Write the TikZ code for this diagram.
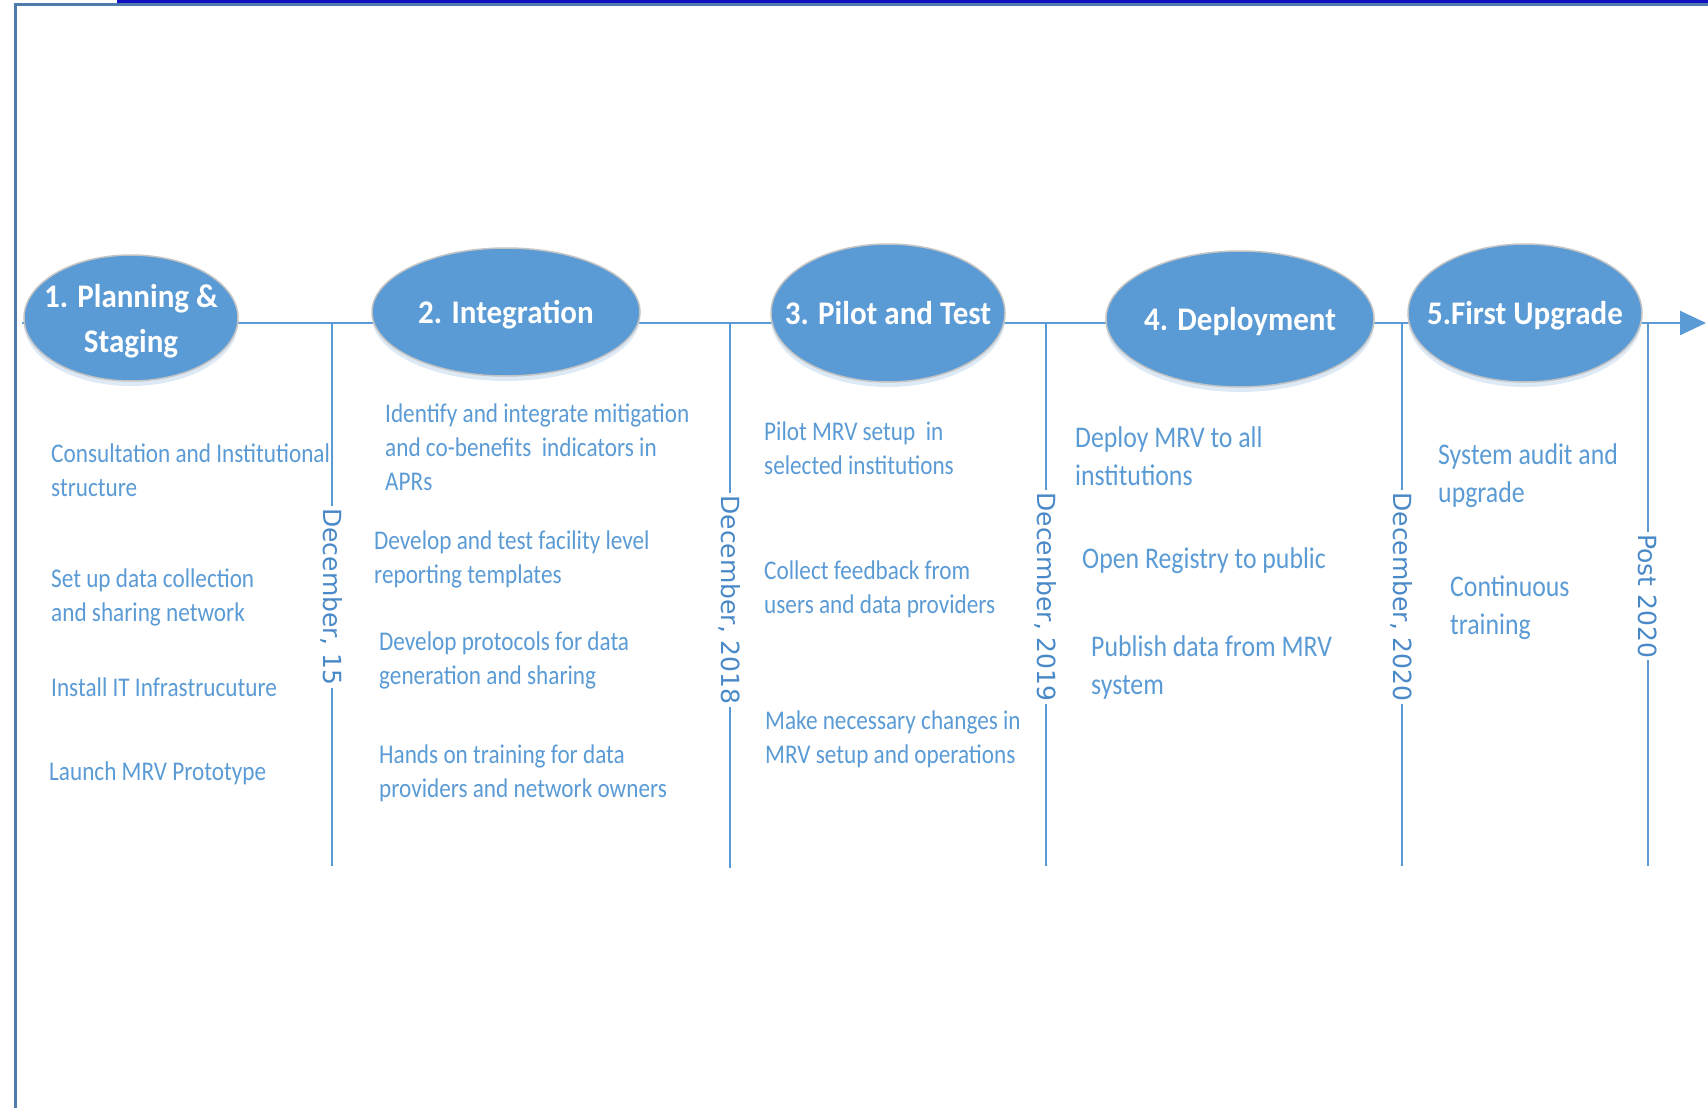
\documentclass[tikz,border=0pt]{standalone}
\usepackage{fontspec}
\usepackage{xcolor}
\usepackage{tikz}
\usetikzlibrary{arrows.meta,shapes.geometric,shadows}
\newfontfamily\taskfont[FakeStretch=0.86]{Carlito}
\newfontfamily\phasefont[FakeStretch=0.94]{Carlito}
\newfontfamily\datefont{DejaVu Sans}
\definecolor{mrvblue}{HTML}{5B9BD5}
\definecolor{datecol}{HTML}{4A89C8}
\definecolor{framegray}{HTML}{4F7CAC}
\definecolor{framedark}{HTML}{1010C0}
\definecolor{rimgray}{HTML}{C4C4C4}

\begin{document}
\begin{tikzpicture}[x=1pt,y=-1pt,
  phase/.style={ellipse,draw=rimgray,line width=1.5pt,fill=mrvblue,text=white,align=center,
    inner xsep=-30pt,inner ysep=0pt,text depth=0pt,font=\phasefont\bfseries\fontsize{33}{45}\selectfont,
    drop shadow={shadow xshift=0pt,shadow yshift=-5pt,fill=mrvblue!35,opacity=.6}},
  task/.style={anchor=west,align=left,inner sep=0pt,text=mrvblue,font=\taskfont\fontsize{27}{34}\selectfont},
  bigtask/.style={task,font=\taskfont\fontsize{30}{38}\selectfont},
  date/.style={rotate=-90,fill=white,inner sep=2pt,text=datecol,font=\datefont\fontsize{25}{25}\selectfont},
  tl/.style={draw=mrvblue,line width=2.5pt}]
\useasboundingbox (0,0) rectangle (1708,1108);

% frame
\draw[framegray,line width=3pt] (15,1108) -- (15,5) -- (1708,5);
\draw[framedark,line width=3pt] (117,1.5) -- (1708,1.5);

% time line
\coordinate (start) at (22,323);
\coordinate (end) at (1706,323);
\draw[tl,-{Triangle[length=26pt,width=24pt]}] (start) -- (end);

% phases
\node (1) at (131,318) [phase,minimum width=214pt,minimum height=126pt] {1. Planning \&\\Staging};
\node (2) at (506,312) [phase,minimum width=268pt,minimum height=128pt] {2. Integration};
\node (3) at (888,313) [phase,minimum width=234pt,minimum height=138pt] {3. Pilot and Test};
\node (4) at (1240,319) [phase,minimum width=268pt,minimum height=136pt] {4. Deployment};
\node (5) at (1525,313) [phase,minimum width=234pt,minimum height=138pt] {5.First Upgrade};

% milestones
\coordinate (m1) at (332,323);
\coordinate (m2) at (730,323);
\coordinate (m3) at (1046,323);
\coordinate (m4) at (1402,323);
\coordinate (m5) at (1648,323);
\coordinate (b1) at (332,866);
\coordinate (b2) at (730,868);
\coordinate (b3) at (1046,866);
\coordinate (b4) at (1402,866);
\coordinate (b5) at (1648,866);
\node (d1) at (332,597) [date] {December, 15};
\node (d2) at (730,600) [date] {December, 2018};
\node (d3) at (1046,597) [date] {December, 2019};
\node (d4) at (1402,597) [date] {December, 2020};
\node (d5) at (1648,596) [date] {Post 2020};
\draw[tl] (m1) -- (d1) -- (b1);
\draw[tl] (m2) -- (d2) -- (b2);
\draw[tl] (m3) -- (d3) -- (b3);
\draw[tl] (m4) -- (d4) -- (b4);
\draw[tl] (m5) -- (d5) -- (b5);

% tasks
\node (t1a) at (51,470) [task] {Consultation and Institutional\\structure};
\node (t1b) at (51,597) [task] {Set up data collection\\and sharing network};
\node (t1c) at (51,687) [task] {Install IT Infrastrucuture};
\node (t1d) at (49,773) [task] {Launch MRV Prototype};

\node (t2a) at (385,447) [task] {Identify and integrate mitigation\\and co-benefits\ \ indicators in\\APRs};
\node (t2b) at (374,559) [task] {Develop and test facility level\\reporting templates};
\node (t2c) at (379,660) [task] {Develop protocols for data\\generation and sharing};
\node (t2d) at (379,773) [task] {Hands on training for data\\providers and network owners};

\node (t3a) at (764,448) [task] {Pilot MRV setup\ \ in\\selected institutions};
\node (t3b) at (764,589) [task] {Collect feedback from\\users and data providers};
\node (t3c) at (765,739) [task] {Make necessary changes in\\MRV setup and operations};

\node (t4a) at (1075,456) [bigtask] {Deploy MRV to all\\institutions};
\node (t4b) at (1082,561) [bigtask] {Open Registry to public};
\node (t4c) at (1091,667) [bigtask] {Publish data from MRV\\system};

\node (t5a) at (1438,476) [bigtask] {System audit and\\upgrade};
\node (t5b) at (1450,608) [bigtask] {Continuous\\training};
\end{tikzpicture}
\end{document}
